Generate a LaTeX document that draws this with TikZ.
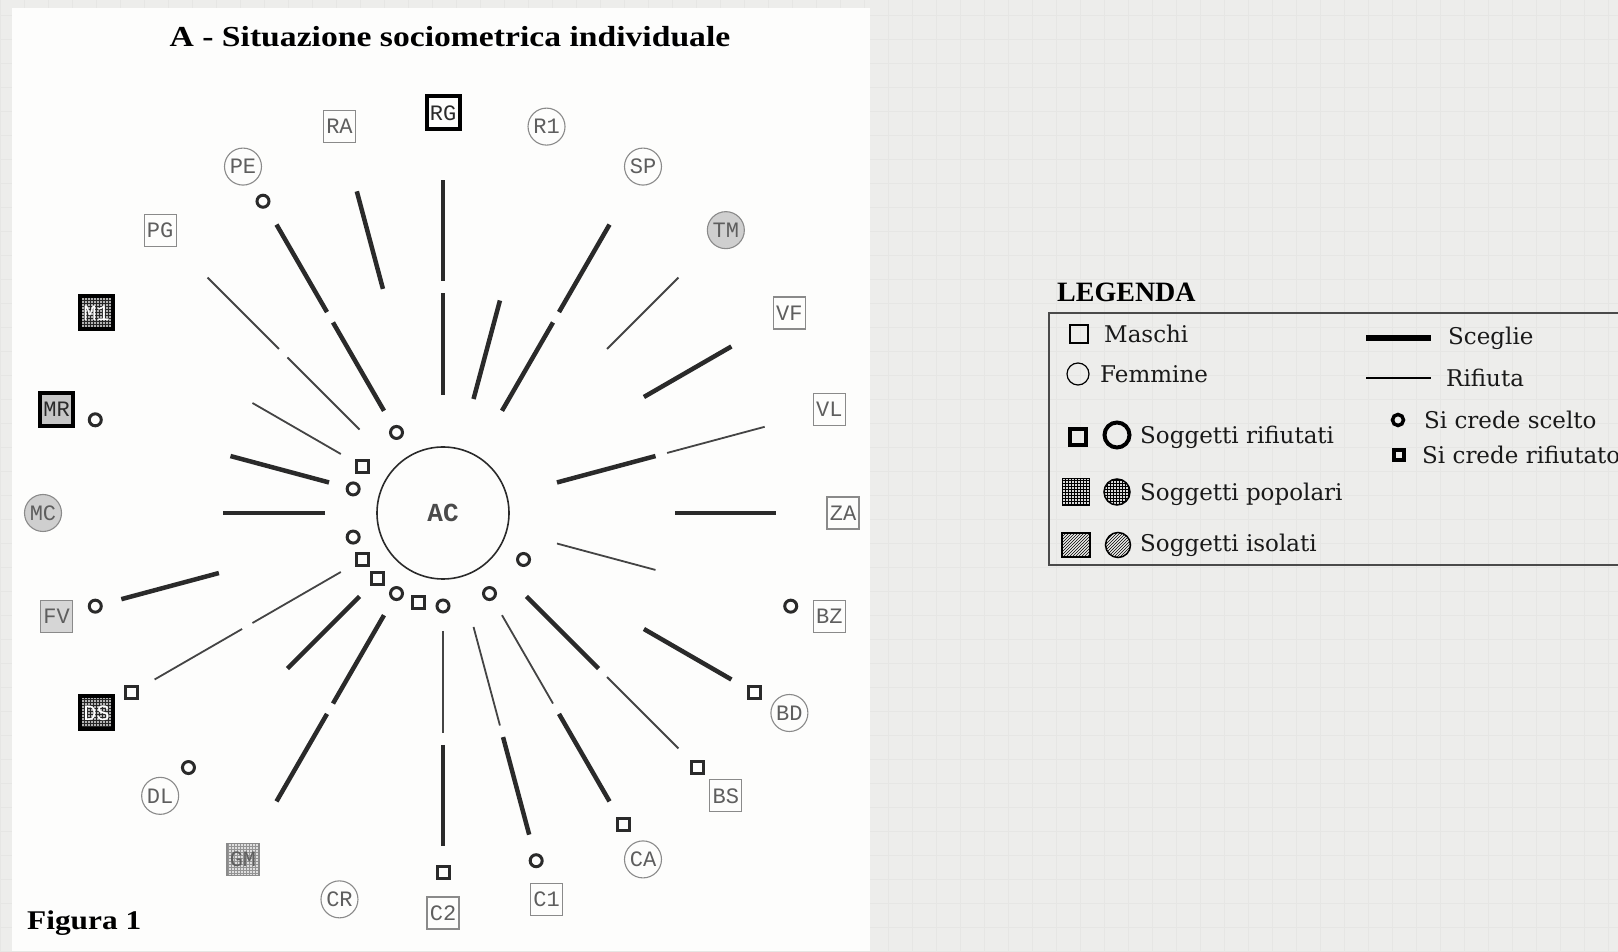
\documentclass[tikz,border=0pt]{standalone}
\usepackage{fontspec}
\setmainfont{Liberation Serif}
\newfontfamily\monof{Liberation Mono}
\newfontfamily\legf{DejaVu Serif}
\usetikzlibrary{calc,patterns}
\definecolor{bgc}{HTML}{EDEDEB}
\definecolor{gridc}{HTML}{E6E6E4}
\definecolor{panel}{HTML}{FDFDFC}
\definecolor{nodeline}{HTML}{8A8A8A}
\definecolor{nodetext}{HTML}{5E5E5E}
\definecolor{ink}{HTML}{2A2A2A}
\definecolor{thinink}{HTML}{444444}
\begin{document}
\begin{tikzpicture}[x=1pt,y=1pt,
  lab/.style={font=\monof\fontsize{22}{22}\selectfont, text=nodetext, inner sep=0pt},
  msq/.style={lab, rectangle, draw=nodeline, line width=1.1pt, minimum size=32pt},
  fcirc/.style={lab, circle, draw=nodeline, line width=1.1pt, minimum size=37pt},
  fiso/.style={fcirc, fill=gray!38},
  miso/.style={msq, fill=gray!32},
  mpop/.style={msq, preaction={fill=gray!25}, pattern=grid, pattern color=gray!85},
  rejsq/.style={msq, draw=black, line width=4pt, minimum size=33pt, text=ink},
  rejpop/.style={rejsq, preaction={fill=gray!60}, pattern=grid, pattern color=black!85, text=white},
  rejiso/.style={rejsq, fill=gray!45},
  sc/.style={draw=ink, line width=4.5pt},
  rf/.style={draw=thinink, line width=1.8pt},
  none/.style={draw=none},
  mc/.style={circle, draw=ink, line width=3pt, minimum size=12pt, inner sep=0pt},
  ms/.style={rectangle, draw=ink, line width=3pt, minimum size=12pt, inner sep=0pt},
  legtext/.style={font=\legf\fontsize{23}{23}\selectfont, text=black!90, anchor=west, inner sep=0pt},
  legsym/.style={draw=black, inner sep=0pt}
]
\useasboundingbox (0,0) rectangle (1618,951);
\clip (0,0) rectangle (1618,951);
\fill[bgc] (0,0) rectangle (1618,951);
\draw[gridc, line width=0.7pt] (0,0) grid[step=24pt] (1618,951);
\fill[panel] (12,0) rectangle (870,943);

% title and caption
\node[font=\bfseries\fontsize{29}{29}\selectfont, anchor=base, inner sep=0pt] (title) at (450,904) {\scalebox{1.16}[1]{A - Situazione sociometrica individuale}};
\node[font=\bfseries\fontsize{27}{27}\selectfont, anchor=base west, inner sep=0pt] (fig) at (27,21) {\scalebox{1.16}[1]{Figura 1}};

% centre
\coordinate (C) at (443,438);
\node[circle, draw=ink, line width=1.6pt, minimum size=132pt, inner sep=0pt,
      font=\monof\bfseries\fontsize{26}{26}\selectfont, text=ink!85] (ac) at (C) {AC};

% subjects
\foreach \a/\n/\s in {90/RG/rejsq, 75/R1/fcirc, 60/SP/fcirc, 45/TM/fiso, 30/VF/msq, 15/VL/msq,
  0/ZA/msq, -15/BZ/msq, -30/BD/fcirc, -45/BS/msq, -60/CA/fcirc, -75/C1/msq, -90/C2/msq,
  -105/CR/fcirc, -120/GM/mpop, -135/DL/fcirc, -150/DS/rejpop, -165/FV/miso, 180/MC/fiso,
  165/MR/rejiso, 150/M1/rejpop, 135/PG/msq, 120/PE/fcirc, 105/RA/msq}
  \node[\s] (n\n) at ($(C)+(\a:400)$) {\n};

% spokes: inner segment (from AC) and outer segment (towards subject)
\foreach \n/\i/\o in {RG/sc/sc, R1/sc/none, SP/sc/sc, TM/none/rf, VF/none/sc, VL/sc/rf,
  ZA/none/sc, BZ/rf/none, BD/none/sc, BS/sc/rf, CA/rf/sc, C1/rf/sc, C2/rf/sc, GM/sc/sc,
  DL/sc/none, DS/rf/rf, FV/none/sc, MC/sc/none, MR/sc/none, M1/rf/none, PG/rf/rf,
  PE/sc/sc, RA/none/sc}
{
  \draw[\i] ($(ac.center)!0.295!(n\n.center)$) -- ($(ac.center)!0.55!(n\n.center)$);
  \draw[\o] ($(ac.center)!0.58!(n\n.center)$) -- ($(ac.center)!0.8325!(n\n.center)$);
}

% markers near AC
\foreach \n/\m in {PE/mc, M1/ms, MR/mc, FV/mc, DS/ms, DL/ms, GM/mc, CR/ms, C2/mc, CA/mc, BD/mc}
  \node[\m] (i\n) at ($(ac.center)!0.2325!(n\n.center)$) {};
% markers near subjects
\foreach \n/\m in {PE/mc, MR/mc, FV/mc, DS/ms, DL/mc, C2/ms, C1/mc, CA/ms, BS/ms, BD/ms, BZ/mc}
  \node[\m] (o\n) at ($(ac.center)!0.9!(n\n.center)$) {};

% legend
\node[font=\bfseries\fontsize{28}{28}\selectfont, anchor=base west, inner sep=0pt] (legT) at (1057,649) {LEGENDA};
\draw[line width=2pt, draw=ink!85] (1640,638) -- (1049,638) -- (1049,386) -- (1640,386);

\node[legsym, rectangle, line width=1.2pt, minimum size=18pt] (lsM) at (1079,617) {};
\node[legtext] (ltM) at (1104,617) {Maschi};
\node[legsym, circle, line width=1.2pt, minimum size=22pt] (lsF) at (1078,577) {};
\node[legtext] (ltF) at (1100,577) {Femmine};
\node[legsym, rectangle, line width=4pt, minimum size=16pt] (lsR1) at (1078,514) {};
\node[legsym, circle, line width=4pt, minimum size=25pt] (lsR2) at (1117,516) {};
\node[legtext] (ltR) at (1140,514) {Soggetti rifiutati};
\node[legsym, rectangle, line width=1.5pt, minimum size=27pt, preaction={fill=gray!30}, pattern=grid] (lsP1) at (1076,459) {};
\node[legsym, circle, line width=1.5pt, minimum size=26pt, preaction={fill=gray!30}, pattern=grid] (lsP2) at (1117,459) {};
\node[legtext] (ltP) at (1140,457) {Soggetti popolari};
\node[legsym, rectangle, line width=1.5pt, minimum width=28pt, minimum height=24pt, pattern=north east lines] (lsI1) at (1076,406) {};
\node[legsym, circle, line width=1.5pt, minimum size=25pt, pattern=north east lines] (lsI2) at (1118,406) {};
\node[legtext] (ltI) at (1140,406) {Soggetti isolati};

\coordinate (lsSa) at (1366,613);
\coordinate (lsSb) at (1431,613);
\draw[line width=6pt, black] (lsSa) -- (lsSb);
\node[legtext] (ltS) at (1448,613) {Sceglie};
\coordinate (lsRa) at (1366,573);
\coordinate (lsRb) at (1431,573);
\draw[line width=1.5pt, black] (lsRa) -- (lsRb);
\node[legtext] (ltRf) at (1446,573) {Rifiuta};
\node[legsym, circle, line width=3.5pt, minimum size=11pt] (lsC) at (1398,531) {};
\node[legtext] (ltC) at (1424,531) {Si crede scelto};
\node[legsym, rectangle, line width=4pt, minimum size=10pt] (lsQ) at (1399,496) {};
\node[legtext] (ltQ) at (1422,496) {Si crede rifiutato};
\end{tikzpicture}
\end{document}
